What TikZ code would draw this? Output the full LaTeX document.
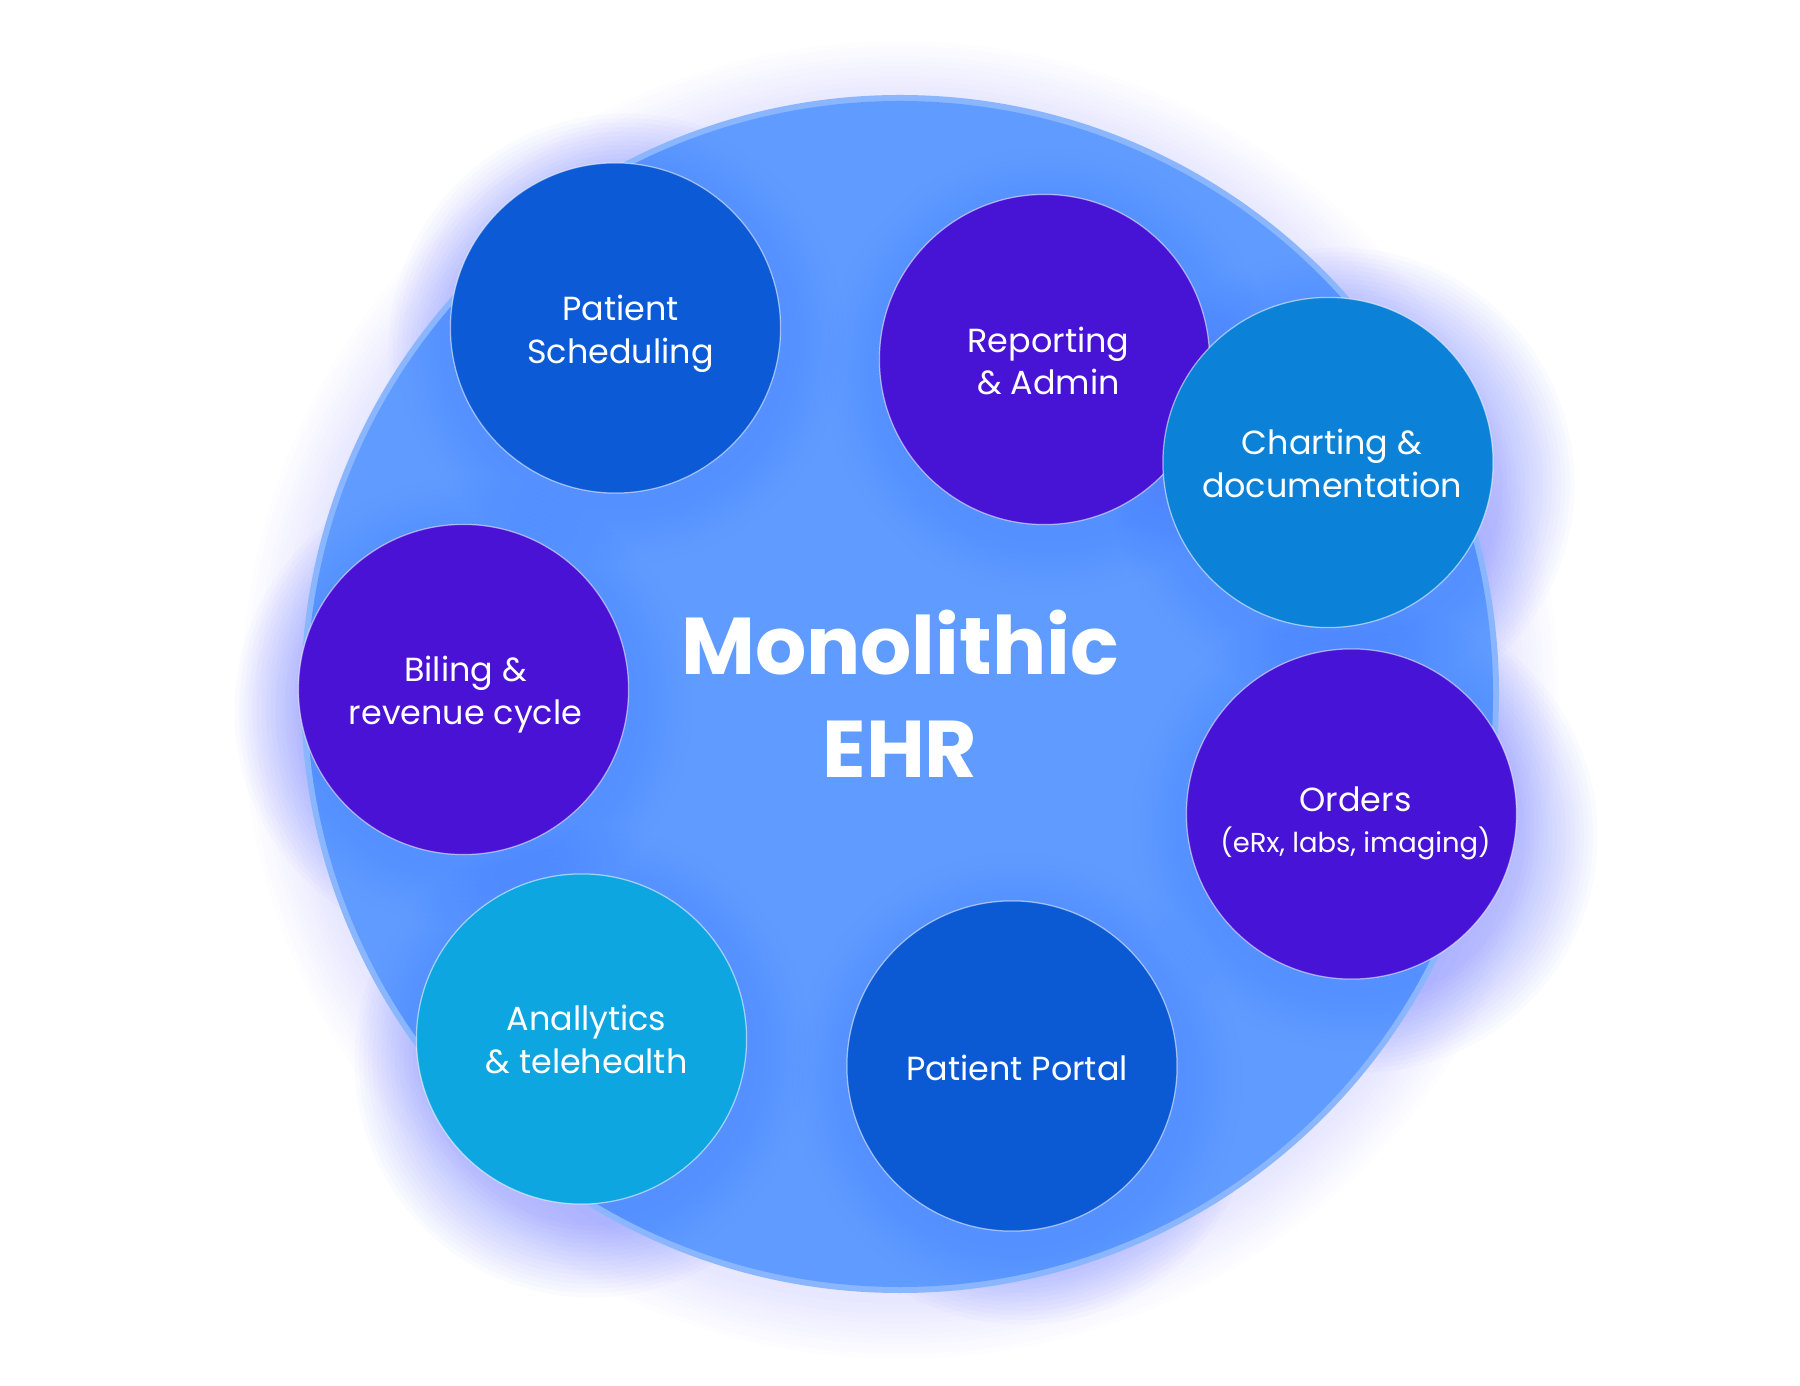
\documentclass[tikz,border=0pt]{standalone}
\usepackage{fontspec}
\setmainfont{Poppins}
\definecolor{bigc}{HTML}{609CFF}
\definecolor{bigrim}{HTML}{8AB5FF}
\definecolor{glowc}{HTML}{4F62FF}
\definecolor{cSched}{HTML}{0C5AD6}
\definecolor{cRep}{HTML}{4714D6}
\definecolor{cChart}{HTML}{0B82D8}
\definecolor{cBill}{HTML}{4912D4}
\definecolor{cOrd}{HTML}{4713D7}
\definecolor{cAna}{HTML}{0EA6E0}
\definecolor{cPort}{HTML}{0C5AD3}
\tikzset{
  bubble/.style={circle, minimum size=3.3cm, inner sep=0pt,
    draw=white, draw opacity=0.55, line width=0.35pt},
  lbl/.style={text=white, align=center, inner sep=0pt,
    font=\fontsize{9.5}{12.2}\selectfont},
  title/.style={text=white, align=center, inner sep=0pt,
    font=\fontsize{22.9}{29.3}\selectfont\bfseries}
}
\begin{document}
\begin{tikzpicture}[x=0.01cm,y=-0.01cm]
\useasboundingbox (0,0) rectangle (1800,1386);
\fill[white] (0,0) rectangle (1800,1386);
% outer glows (behind the big circle), slightly offset downwards
\foreach \i in {1,...,12}{
  \fill[glowc, opacity=0.007] (900,700) circle ({599+5*\i});
}
\foreach \p in {(625,350),(1054,381),(1338,484),(471,711),(1361,836),(591,1061),(1022,1088)}{
  \foreach \i in {1,...,17}{
    \fill[glowc, opacity=0.024] \p circle ({160+4.5*\i});
  }
}
% big circle
\fill[bigrim] (900,694) circle (599);
\fill[bigc] (900,694) circle (593);
% soft glows over the big circle
\begin{scope}
\clip (900,694) circle (593);
\foreach \p in {(620,340),(1049,372),(1333,475),(468,702),(1356,826),(586,1051),(1017,1078)}{
  \foreach \i in {1,...,12}{
    \fill[glowc, opacity=0.011] \p circle ({165+5*\i});
  }
}
\end{scope}
% centre title
\node[title] (title) at (900,694) {Monolithic\\EHR};
% bubbles
\node[bubble, fill=cSched] (sched) at (615.5,328) {};
\node[bubble, fill=cRep] (rep) at (1044.5,359.5) {};
\node[bubble, fill=cChart] (chart) at (1328,462.5) {};
\node[bubble, fill=cBill] (bill) at (463.5,689.5) {};
\node[bubble, fill=cOrd] (ord) at (1351.5,814) {};
\node[bubble, fill=cAna] (ana) at (581.5,1039) {};
\node[bubble, fill=cPort] (port) at (1012,1066) {};
% labels
\node[lbl] (schedt) at ([xshift=0.05cm,yshift=-0.06cm]sched.center) {Patient\\Scheduling};
\node[lbl] (rept) at ([xshift=0.04cm,yshift=-0.015cm]rep.center) {Reporting\\\& Admin};
\node[lbl] (chartt) at ([xshift=0.04cm,yshift=-0.005cm]chart.center) {Charting \&\\documentation};
\node[lbl] (billt) at ([xshift=0.02cm,yshift=-0.05cm]bill.center) {Biling \&\\revenue cycle};
\node[lbl] (ordt) at ([xshift=0.04cm,yshift=-0.09cm]ord.center) {Orders\\[-0.5pt]{\fontsize{7.8}{10}\selectfont (eRx, labs, imaging)}};
\node[lbl] (anat) at ([xshift=0.05cm,yshift=-0.005cm]ana.center) {Anallytics\\\& telehealth};
\node[lbl] (portt) at ([xshift=0.05cm,yshift=-0.02cm]port.center) {Patient Portal};
\end{tikzpicture}
\end{document}
